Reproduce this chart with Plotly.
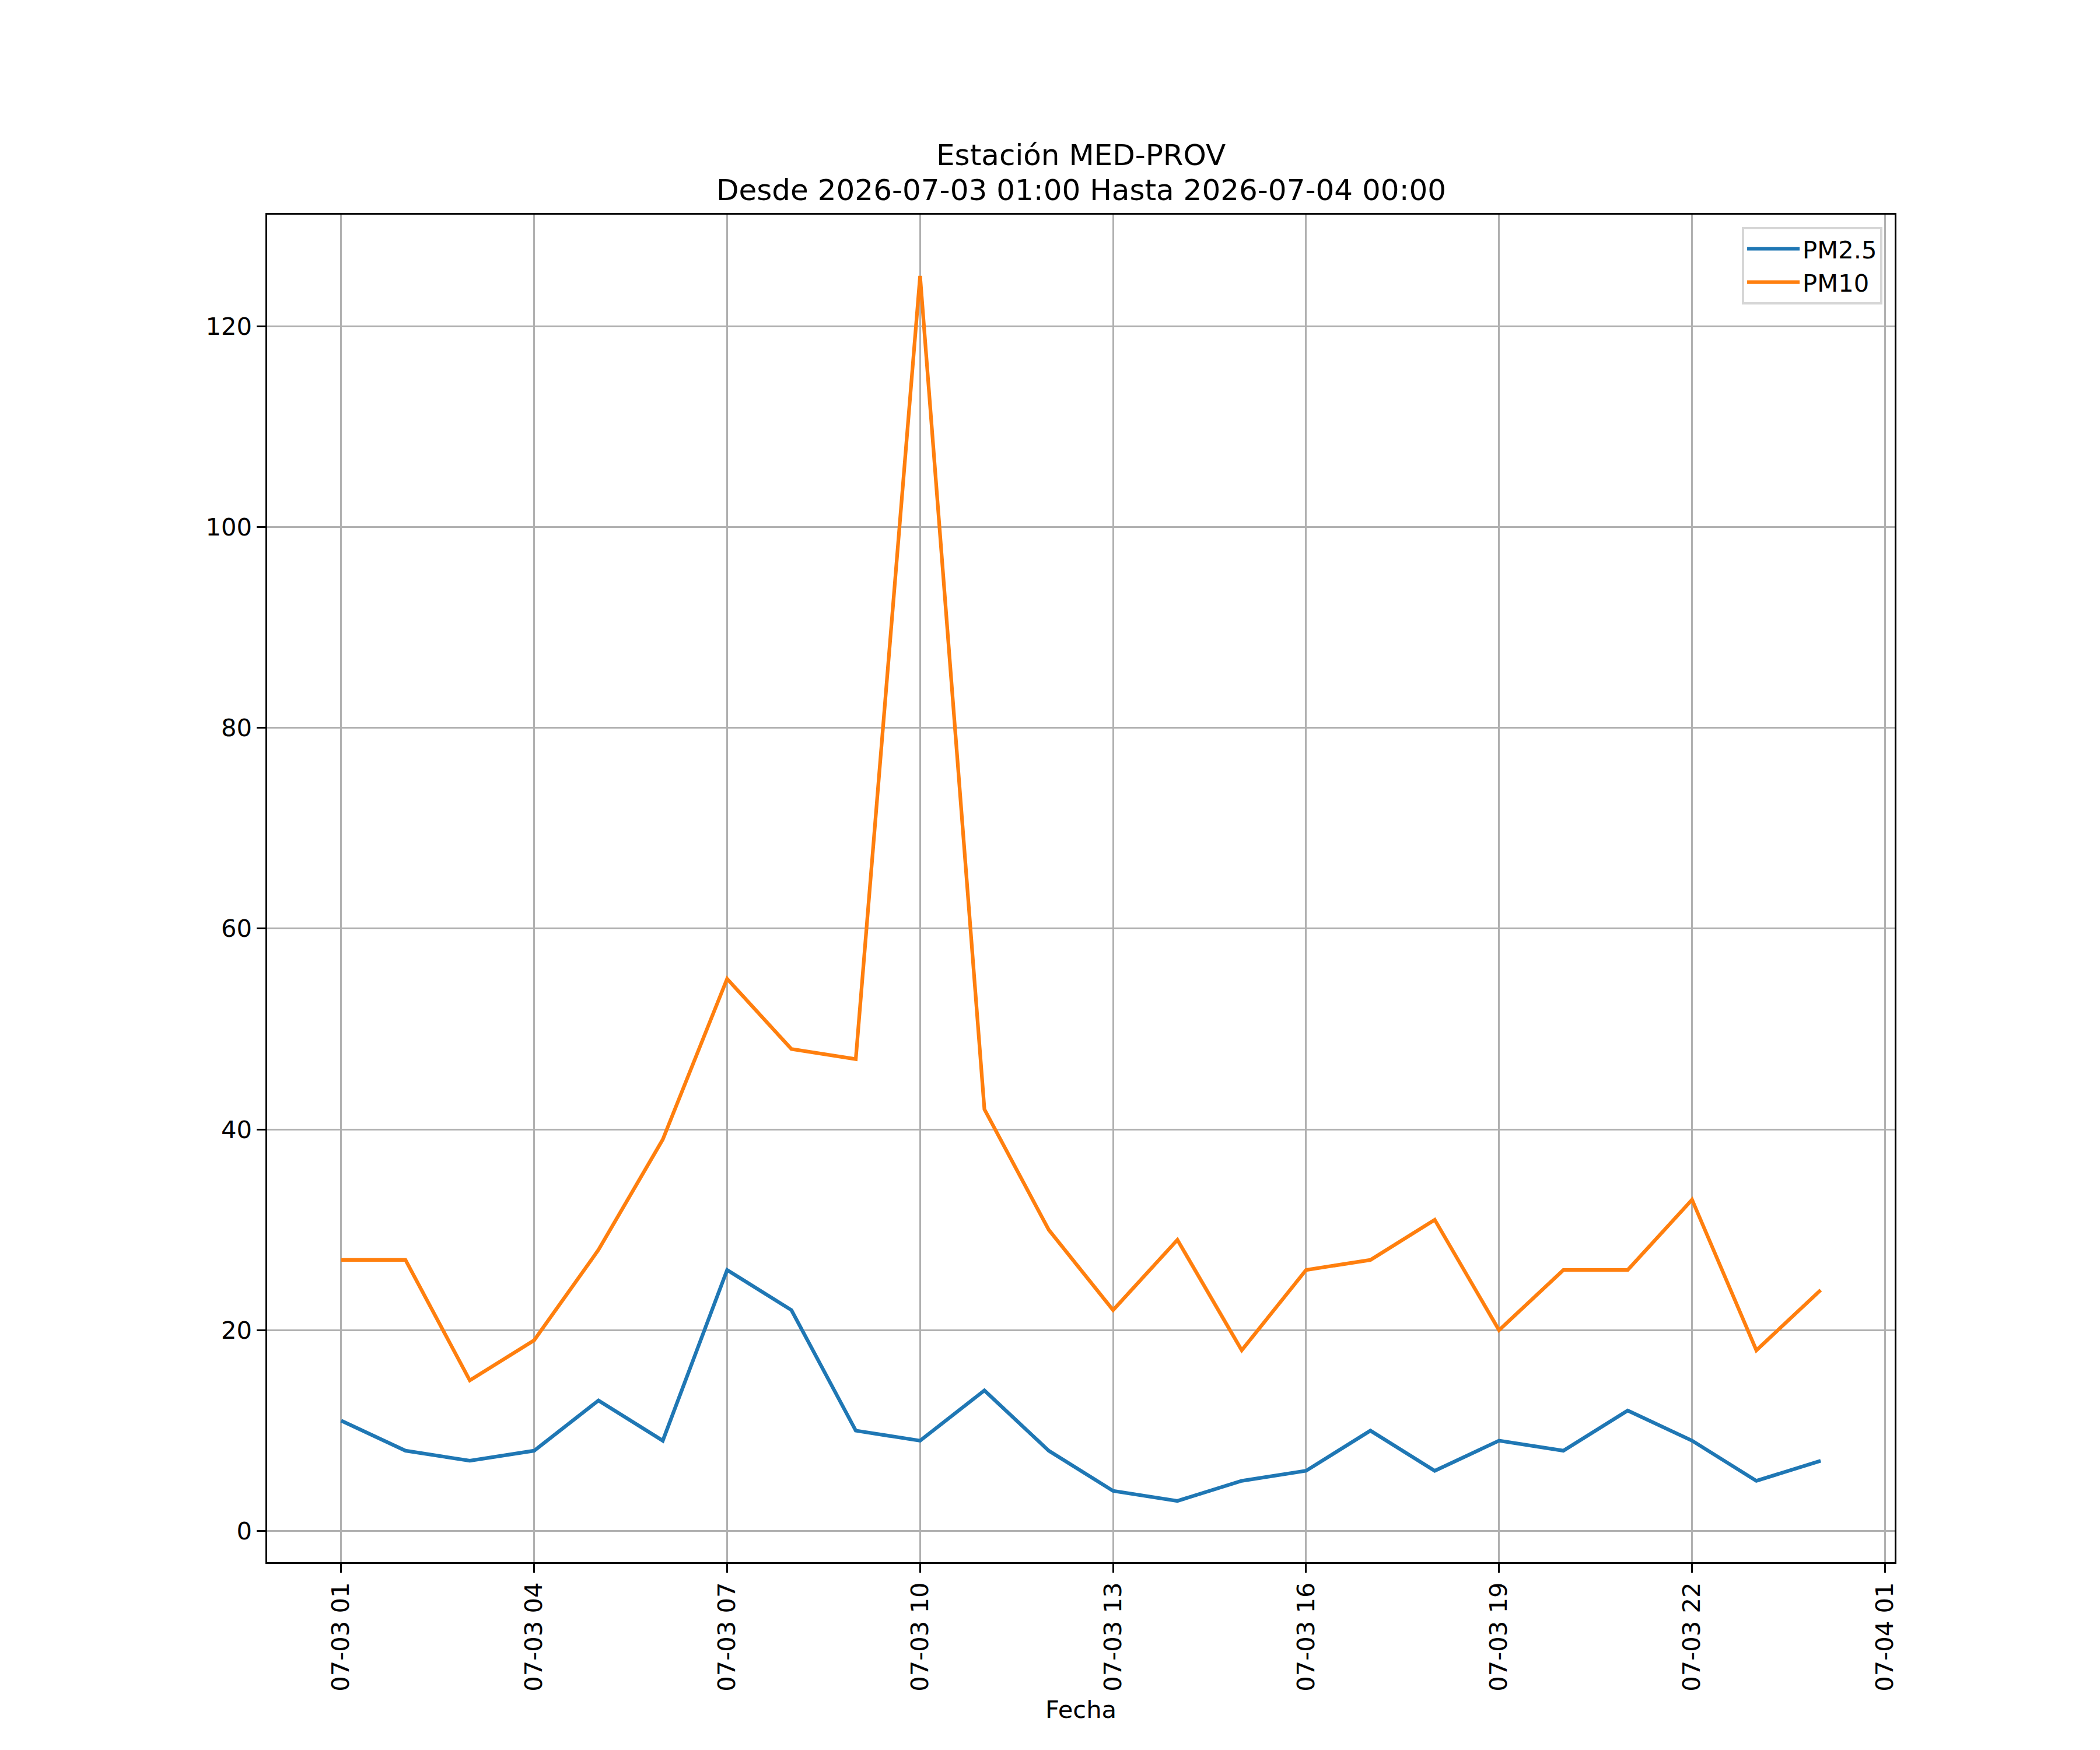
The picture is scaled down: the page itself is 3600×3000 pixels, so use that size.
import plotly.graph_objects as go

# ---- data ----
times = [
    "2026-07-03 01:00", "2026-07-03 02:00", "2026-07-03 03:00", "2026-07-03 04:00",
    "2026-07-03 05:00", "2026-07-03 06:00", "2026-07-03 07:00", "2026-07-03 08:00",
    "2026-07-03 09:00", "2026-07-03 10:00", "2026-07-03 11:00", "2026-07-03 12:00",
    "2026-07-03 13:00", "2026-07-03 14:00", "2026-07-03 15:00", "2026-07-03 16:00",
    "2026-07-03 17:00", "2026-07-03 18:00", "2026-07-03 19:00", "2026-07-03 20:00",
    "2026-07-03 21:00", "2026-07-03 22:00", "2026-07-03 23:00", "2026-07-04 00:00",
]
pm25 = [11, 8, 7, 8, 13, 9, 26, 22, 10, 9, 14, 8, 4, 3, 5, 6, 10, 6, 9, 8, 12, 9, 5, 7]
pm10 = [27, 27, 15, 19, 28, 39, 55, 48, 47, 125, 42, 30, 22, 29, 18, 26, 27, 31, 20, 26, 26, 33, 18, 24]

x_tick_vals = [
    "2026-07-03 01:00", "2026-07-03 04:00", "2026-07-03 07:00", "2026-07-03 10:00",
    "2026-07-03 13:00", "2026-07-03 16:00", "2026-07-03 19:00", "2026-07-03 22:00",
    "2026-07-04 01:00",
]
x_tick_labels = [
    "07-03 01", "07-03 04", "07-03 07", "07-03 10",
    "07-03 13", "07-03 16", "07-03 19", "07-03 22", "07-04 01",
]
y_tick_vals = [0, 20, 40, 60, 80, 100, 120]

title_line1 = "Estación MED-PROV"
title_line2 = "Desde 2026-07-03 01:00 Hasta 2026-07-04 00:00"
x_label = "Fecha"

# ---- style ----
W, H = 3600, 3000
L, R, T, B = 450, 360, 360, 330
FONT = "DejaVu Sans"
FS = 41.67
TFS = 50
LW = 6.25
GRID = "#b0b0b0"

fig = go.Figure()
fig.add_trace(go.Scatter(x=times, y=pm25, mode="lines", name="PM2.5",
                         line=dict(color="#1f77b4", width=LW)))
fig.add_trace(go.Scatter(x=times, y=pm10, mode="lines", name="PM10",
                         line=dict(color="#ff7f0e", width=LW)))

fig.update_layout(
    width=W, height=H,
    margin=dict(l=L, r=R, t=T, b=B, autoexpand=False),
    paper_bgcolor="white", plot_bgcolor="white",
    font=dict(family=FONT, size=FS, color="black"),
    showlegend=True,
    legend=dict(
        x=0.9925, y=0.991, xanchor="right", yanchor="top",
        bgcolor="rgba(255,255,255,0.8)",
        bordercolor="rgba(204,204,204,0.8)", borderwidth=4,
        itemwidth=90,
        font=dict(family=FONT, size=FS, color="black"),
    ),
)

fig.update_xaxes(
    type="date",
    range=["2026-07-02 23:51", "2026-07-04 01:09"],
    tickmode="array", tickvals=x_tick_vals, ticktext=x_tick_labels,
    tickangle=-90,
    showgrid=True, gridcolor=GRID, gridwidth=3.3,
    showline=True, linecolor="black", linewidth=3.3, mirror=True,
    ticks="outside", ticklen=14.6, tickwidth=3.3, tickcolor="black",
    tickfont=dict(family=FONT, size=FS, color="black"),
    zeroline=False,
)
fig.update_yaxes(
    range=[-3.1, 131.1],
    tickmode="array", tickvals=y_tick_vals,
    showgrid=True, gridcolor=GRID, gridwidth=3.3,
    showline=True, linecolor="black", linewidth=3.3, mirror=True,
    ticks="outside", ticklen=14.6, tickwidth=3.3, tickcolor="black",
    tickfont=dict(family=FONT, size=FS, color="black"),
    zeroline=False,
)

fig.add_annotation(text=title_line1, xref="paper", yref="paper", x=0.5, y=1,
                   xanchor="center", yanchor="middle", yshift=102, showarrow=False,
                   font=dict(family=FONT, size=TFS, color="black"))
fig.add_annotation(text=title_line2, xref="paper", yref="paper", x=0.5, y=1,
                   xanchor="center", yanchor="middle", yshift=42, showarrow=False,
                   font=dict(family=FONT, size=TFS, color="black"))
fig.add_annotation(text=x_label, xref="paper", yref="paper", x=0.5, y=0,
                   xanchor="center", yanchor="middle", yshift=-252, showarrow=False,
                   font=dict(family=FONT, size=FS, color="black"))

fig.write_html("out.html")
